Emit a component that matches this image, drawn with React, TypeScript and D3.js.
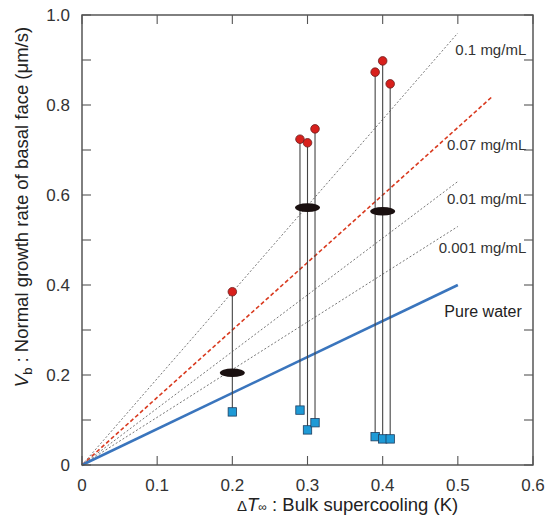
import React from "react";
import * as d3 from "d3";

const xTickValues = [0, 0.1, 0.2, 0.3, 0.4, 0.5, 0.6];
const xTickLabels = ["0", "0.1", "0.2", "0.3", "0.4", "0.5", "0.6"];
const yMinorTicks = [0, 0.1, 0.2, 0.3, 0.4, 0.5, 0.6, 0.7, 0.8, 0.9, 1.0];
const yTickValues = [0, 0.2, 0.4, 0.6, 0.8, 1.0];
const yTickLabels = ["0", "0.2", "0.4", "0.6", "0.8", "1.0"];

const lineNames = ["0.1 mg/mL", "0.07 mg/mL", "0.01 mg/mL", "0.001 mg/mL", "Pure water"];
const lineSlopes = [1.92, 1.5, 1.26, 1.06, 0.8];
const lineXEnd = [0.5, 0.545, 0.5, 0.5, 0.5];
const lineLabelY = [0.911, 0.7, 0.58, 0.471, 0.329];
const lineLabelXEnd = [0.591, 0.591, 0.591, 0.591, 0.585];

const pointX = [0.2, 0.29, 0.3, 0.31, 0.39, 0.4, 0.41];
const circleY = [0.385, 0.724, 0.716, 0.747, 0.873, 0.898, 0.847];
const squareY = [0.118, 0.122, 0.078, 0.094, 0.063, 0.058, 0.058];
const groupX = [0.2, 0.3, 0.4];
const ellipseY = [0.205, 0.572, 0.564];

const W = 545;
const H = 520;
const M = { left: 82, right: 533, top: 15, bottom: 465 };

export default function App() {
  const x = d3.scaleLinear().domain([0, 0.6]).range([M.left, M.right]);
  const y = d3.scaleLinear().domain([0, 1.0]).range([M.bottom, M.top]);
  const line = d3
    .line<[number, number]>()
    .x((d) => x(d[0]))
    .y((d) => y(d[1]));
  const font = "'Liberation Sans', Arial, sans-serif";
  const tick = 9;
  const lineStyles = [
    { stroke: "#777", width: 1, dash: "2,2" },
    { stroke: "#d93a1f", width: 1.6, dash: "4,2.5" },
    { stroke: "#777", width: 1, dash: "2,2" },
    { stroke: "#777", width: 1, dash: "2,2" },
    { stroke: "#3a75bd", width: 2.6, dash: "none" },
  ];
  return (
    <svg width={W} height={H} style={{ position: "absolute", left: 0, top: 0, background: "#fff" }} fontFamily={font}>
      {lineSlopes.map((s, i) => (
        <path
          key={"l" + i}
          d={line([
            [0, 0],
            [lineXEnd[i], s * lineXEnd[i]],
          ]) as string}
          fill="none"
          stroke={lineStyles[i].stroke}
          strokeWidth={lineStyles[i].width}
          strokeDasharray={lineStyles[i].dash}
        />
      ))}
      {lineNames.map((n, i) => (
        <text key={"t" + i} x={x(lineLabelXEnd[i])} y={y(lineLabelY[i])} textAnchor="end" fontSize={i === 4 ? 16 : 15} fill={i === 4 ? "#222" : "#333"}>
          {n}
        </text>
      ))}
      {pointX.map((px, i) => (
        <line key={"v" + i} x1={x(px)} x2={x(px)} y1={y(circleY[i])} y2={y(squareY[i])} stroke="#444" strokeWidth={1.1} />
      ))}
      {groupX.map((gx, i) => (
        <ellipse key={"e" + i} cx={x(gx)} cy={y(ellipseY[i])} rx={12.5} ry={4.3} fill="#1a1010" />
      ))}
      {pointX.map((px, i) => (
        <circle key={"c" + i} cx={x(px)} cy={y(circleY[i])} r={4.3} fill="#d8201c" stroke="#6a2020" strokeWidth={0.8} />
      ))}
      {pointX.map((px, i) => (
        <rect key={"s" + i} x={x(px) - 4.2} y={y(squareY[i]) - 4.2} width={8.4} height={8.4} fill="#1e9ad6" stroke="#1d3c5e" strokeWidth={0.8} />
      ))}
      <rect x={M.left} y={M.top} width={M.right - M.left} height={M.bottom - M.top} fill="none" stroke="#4a4a4a" strokeWidth={1.4} />
      {xTickValues.map((v, i) => (
        <g key={"xt" + i} stroke="#555" strokeWidth={1.1}>
          <line x1={x(v)} x2={x(v)} y1={M.bottom} y2={M.bottom - tick} />
          <line x1={x(v)} x2={x(v)} y1={M.top} y2={M.top + tick} />
        </g>
      ))}
      {yMinorTicks.map((v, i) => (
        <g key={"yt" + i} stroke="#555" strokeWidth={1.1}>
          <line x1={M.left} x2={M.left + tick} y1={y(v)} y2={y(v)} />
          <line x1={M.right} x2={M.right - tick} y1={y(v)} y2={y(v)} />
        </g>
      ))}
      {xTickValues.map((v, i) => (
        <text key={"xl" + i} x={x(v)} y={491} textAnchor="middle" fontSize={17} fill="#333">
          {xTickLabels[i]}
        </text>
      ))}
      {yTickValues.map((v, i) => (
        <text key={"yl" + i} x={70} y={y(v) + 6} textAnchor="end" fontSize={17} fill="#333">
          {yTickLabels[i]}
        </text>
      ))}
      <text x={237} y={511} fontSize={18.5} fill="#222">
        <tspan fontSize={15}>Δ</tspan>
        <tspan fontStyle="italic">T</tspan>
        <tspan fontSize={12}>∞</tspan>
        <tspan> : Bulk supercooling (K)</tspan>
      </text>
      <text transform={`translate(28, 207) rotate(-90)`} textAnchor="middle" fontSize={18.5} fill="#222">
        <tspan fontStyle="italic">V</tspan>
        <tspan fontSize={13} dy={4}>b</tspan>
        <tspan dy={-4}> : Normal growth rate of basal face (μm/s)</tspan>
      </text>
    </svg>
  );
}
